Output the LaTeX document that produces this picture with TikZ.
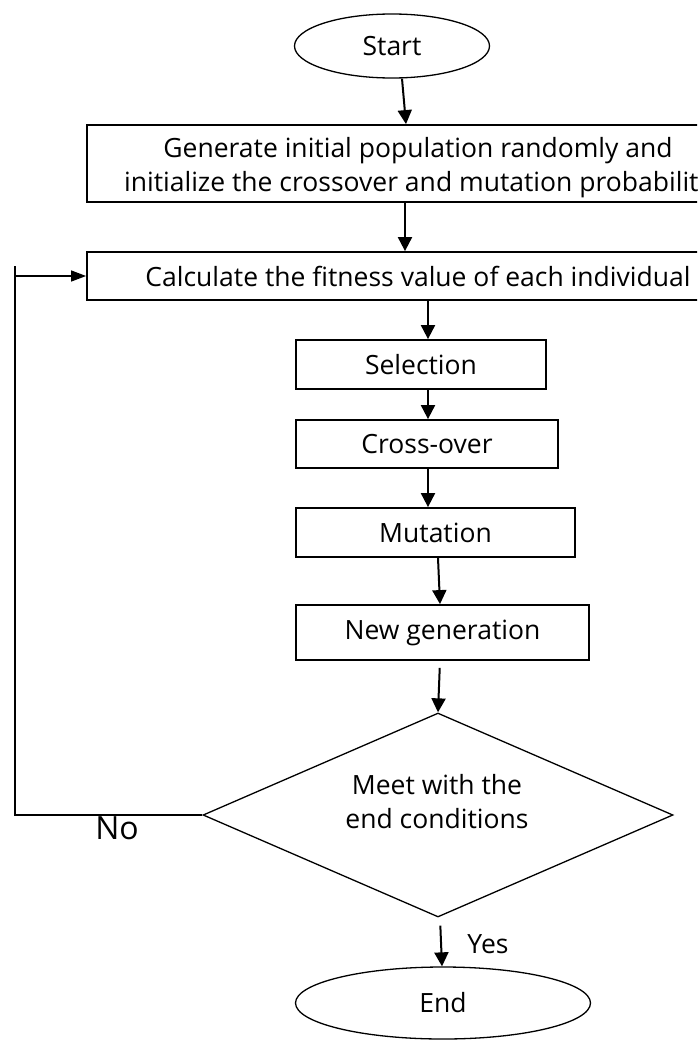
\documentclass[tikz,border=0pt]{standalone}
\usepackage{fontspec}
\setmainfont{Open Sans}
\usetikzlibrary{arrows.meta,shapes.geometric}
\begin{document}
\begin{tikzpicture}[x=1pt,y=-1pt,
  txt/.style={font=\fontsize{26.5}{34}\selectfont},
  box/.style={draw,line width=1.8pt,rectangle,inner sep=0pt,align=center,txt},
  oval/.style={draw,line width=1.3pt,ellipse,inner sep=0pt,txt},
  decision/.style={draw,line width=1.3pt,diamond,inner sep=0pt},
  flow/.style={line width=2pt,-{Triangle[length=14pt,width=14pt]}},
  thinflow/.style={line width=1.2pt,-{Triangle[length=15pt,width=11pt]}},
  loopline/.style={line width=2pt}]
\useasboundingbox (0,0) rectangle (697,1041);
\clip (0,0) rectangle (697,1041);

% terminals
\node[oval,minimum width=195pt,minimum height=64pt] (start) at (392,46) {Start};
\node[oval,minimum width=295pt,minimum height=72pt] (end) at (443,1003) {End};

% process steps
\node[box,minimum width=662pt,minimum height=77pt] (init) at (418,163.5) {};
\node[txt,align=center] (inittxt) at (418,168)
  {Generate initial population randomly and\\initialize the crossover and mutation probability};
\node[box,minimum width=662pt,minimum height=48pt] (fit) at (418,276)
  {Calculate the fitness value of each individual};
\node[box,minimum width=250pt,minimum height=49pt] (sel) at (421,364.5) {Selection};
\node[box,minimum width=262pt,minimum height=48pt] (cross) at (427,444) {Cross-over};
\node[box,minimum width=279pt,minimum height=49pt] (mut) at (435.5,532.5) {Mutation};
\node[box,minimum width=293pt,minimum height=55pt] (newgen) at (442.5,632.5) {New generation};

% termination test
\node[decision,minimum width=470pt,minimum height=204pt] (test) at (438,815) {};
\node[txt,align=center] (testtxt) at (437,802) {Meet with the\\end conditions};

% main flow
\draw[flow] ([xshift=10pt]start.south) -- ([xshift=-12pt]init.north);
\draw[flow] ([xshift=-13pt]init.south) -- ([xshift=-13pt]fit.north);
\draw[flow] ([xshift=10pt]fit.south) -- ([xshift=7pt]sel.north);
\draw[flow] ([xshift=7pt]sel.south) -- ([xshift=1pt]cross.north);
\draw[flow] ([xshift=1pt]cross.south) -- ([xshift=-7.5pt]mut.north);
\draw[flow] ([xshift=2.5pt]mut.south) -- ([xshift=-2.5pt]newgen.north);
\draw[flow,shorten <=7pt] ([xshift=-2.5pt]newgen.south) -- (test.north);
\draw[flow,shorten <=8pt] ([xshift=2pt]test.south) -- ([xshift=-1pt]end.north);
\node[txt] (yes) at (488,944) {Yes};

% loop back when the end condition is not met
\coordinate (back) at (15,815);
\coordinate (backtop) at (15,266);
\draw[loopline] (test.west) -- (back) -- (backtop);
\draw[thinflow] (backtop |- fit.west) -- (fit.west);
\node[font=\fontsize{32}{36}\selectfont] (no) at (117,828) {No};
\end{tikzpicture}
\end{document}
